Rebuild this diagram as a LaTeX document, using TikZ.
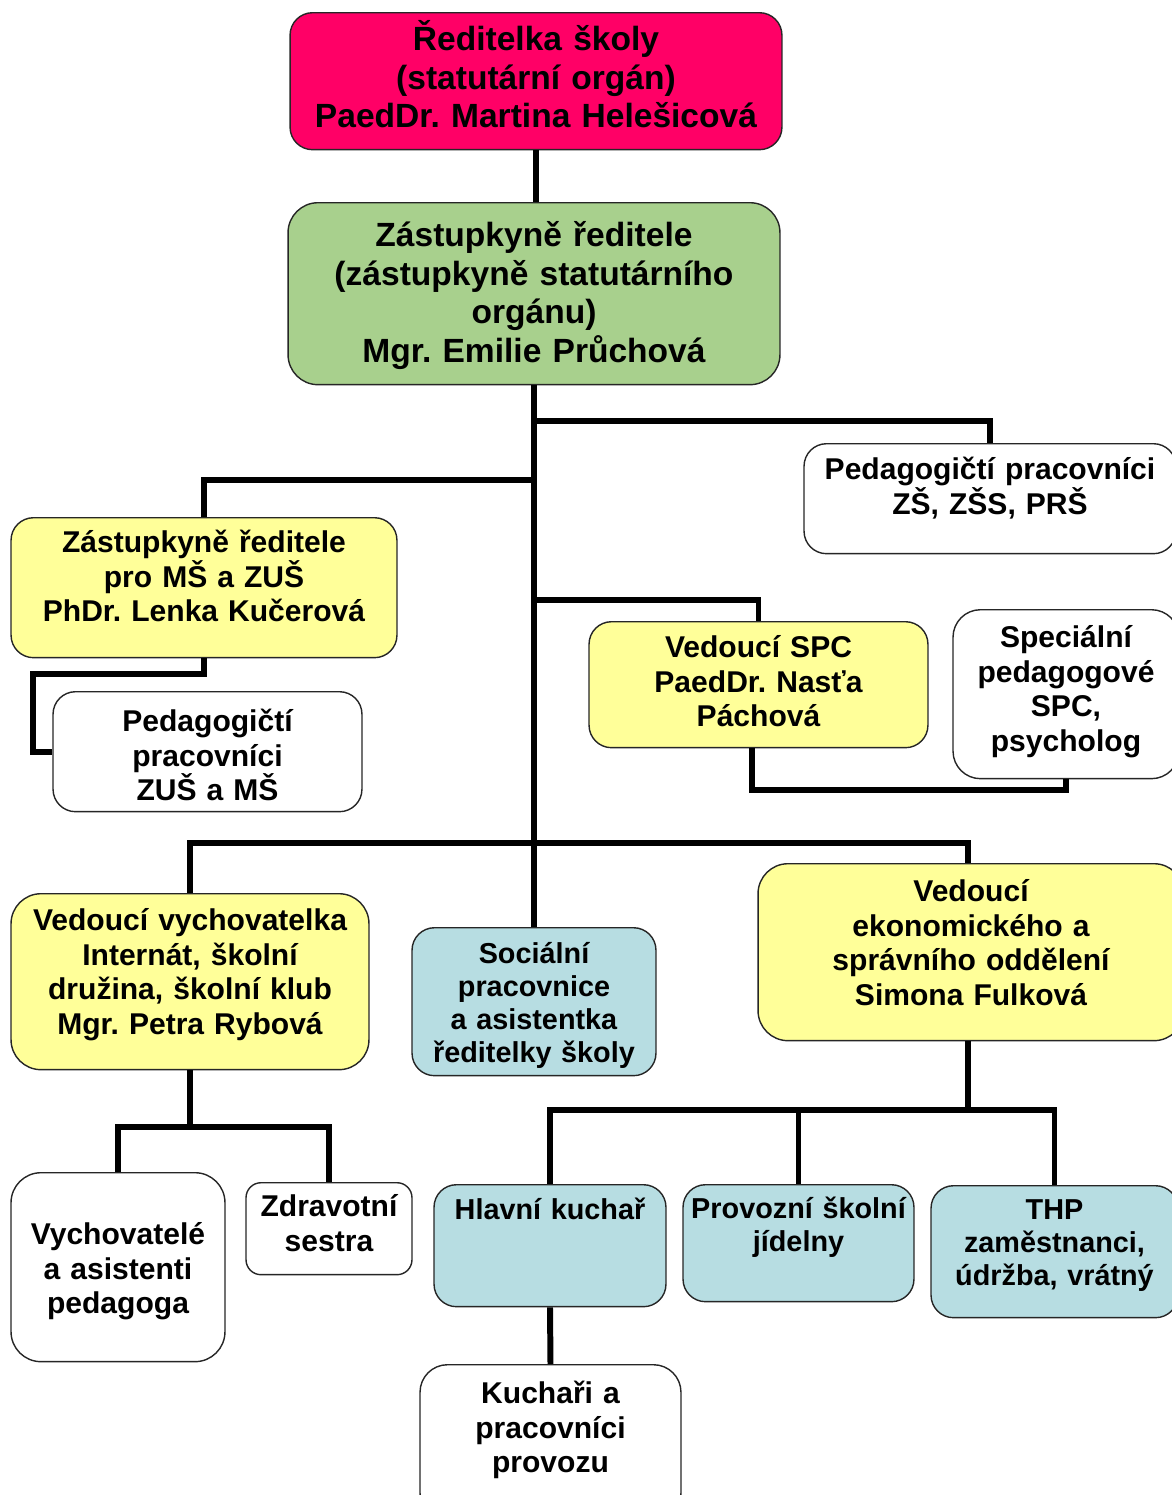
\documentclass[tikz,border=0pt]{standalone}
\usepackage{fontspec}
\setmainfont{Liberation Sans}
\frenchspacing

\definecolor{redbox}{RGB}{255,0,102}
\definecolor{greenbox}{RGB}{168,208,141}
\definecolor{yellowbox}{RGB}{255,255,153}
\definecolor{bluebox}{RGB}{183,221,226}

\tikzset{
	box/.style={draw=black!85, line width=0.8pt, rounded corners=0.45cm, inner sep=0pt, align=center, anchor=north},
	txtbig/.style={font=\fontsize{19.1}{21.9}\selectfont\bfseries},
	txtmid/.style={font=\fontsize{17.1}{19.6}\selectfont\bfseries},
	txtsml/.style={font=\fontsize{16.4}{18.8}\selectfont\bfseries},
	conn/.style={line width=3.4pt},
}

\begin{document}
\begin{tikzpicture}[x=0.02cm, y=-0.02cm]
	
	\useasboundingbox (0,0) rectangle (1171,1495);
	
	% vedeni
	\node[box, txtbig, fill=redbox, text width=9.84cm, text height=0.76cm, text depth=1.98cm] (reditelka) at (536,12) {Ředitelka školy\\(statutární orgán)\\PaedDr. Martina Helešicová};
	\node[box, txtbig, fill=greenbox, rounded corners=0.6cm, text width=9.84cm, text height=0.88cm, text depth=2.76cm] (zastupce) at (534,202) {Zástupkyně ředitele\\(zástupkyně statutárního\\orgánu)\\Mgr. Emilie Průchová};
	
	% stredni uroven
	\node[box, txtmid, fill=white, text width=7.44cm, text height=0.72cm, text depth=1.48cm] (pedzs) at (990,443) {Pedagogičtí pracovníci\\ZŠ, ZŠS, PRŠ};
	\node[box, txtmid, fill=yellowbox, text width=7.72cm, text height=0.70cm, text depth=2.10cm] (zastms) at (204,517) {Zástupkyně ředitele\\pro MŠ a ZUŠ\\PhDr. Lenka Kučerová};
	\node[box, txtmid, fill=white, text width=6.18cm, text height=0.80cm, text depth=1.60cm] (pedzus) at (207.5,691) {Pedagogičtí\\pracovníci\\ZUŠ a MŠ};
	\node[box, txtmid, fill=yellowbox, text width=6.78cm, text height=0.72cm, text depth=1.80cm] (spc) at (758.5,621) {Vedoucí SPC\\PaedDr. Nasťa\\Páchová};
	\node[box, txtmid, fill=white, rounded corners=0.55cm, text width=4.52cm, text height=0.76cm, text depth=2.62cm] (psych) at (1066,609) {Speciální\\pedagogové\\SPC,\\psycholog};
	
	% spodni uroven
	\node[box, txtmid, fill=yellowbox, rounded corners=0.6cm, text width=7.16cm, text height=0.74cm, text depth=2.78cm] (vych) at (190,893) {Vedoucí vychovatelka\\Internát, školní\\družina, školní klub\\Mgr. Petra Rybová};
	\node[box, txtsml, fill=bluebox, text width=4.88cm, text height=0.72cm, text depth=2.24cm] (socialni) at (534,927) {Sociální\\pracovnice\\a asistentka\\ředitelky školy};
	\node[box, txtmid, fill=yellowbox, rounded corners=0.6cm, text width=8.52cm, text height=0.76cm, text depth=2.78cm] (eko) at (971,863) {Vedoucí\\ekonomického a\\správního oddělení\\Simona Fulková};
	
	\node[box, txtmid, fill=white, rounded corners=0.6cm, text width=4.28cm, text height=1.44cm, text depth=2.34cm] (vychas) at (118,1172) {Vychovatelé\\a asistenti\\pedagoga};
	\node[box, txtmid, fill=white, rounded corners=0.3cm, text width=3.32cm, text height=0.68cm, text depth=1.16cm] (zdrav) at (329,1182) {Zdravotní\\sestra};
	\node[box, txtsml, fill=bluebox, text width=4.64cm, text height=0.70cm, text depth=1.74cm] (kuchar) at (550,1184) {Hlavní kuchař};
	\node[box, txtsml, fill=bluebox, text width=4.62cm, text height=0.68cm, text depth=1.66cm] (jidelna) at (798.5,1184) {Provozní školní\\jídelny};
	\node[box, txtsml, fill=bluebox, text width=4.94cm, text height=0.68cm, text depth=1.96cm] (thp) at (1054.5,1185) {THP\\zaměstnanci,\\údržba, vrátný};
	\node[box, txtmid, fill=white, rounded corners=0.55cm, text width=5.22cm, text height=0.78cm, text depth=2.34cm] (kuchari) at (550.5,1364) {Kuchaři a\\pracovníci\\provozu};
	
	% spojnice
	\coordinate (j1) at (534,421);
	\coordinate (j2) at (534,480);
	\coordinate (j3) at (534,600);
	\coordinate (k1) at (33,674);
	\coordinate (k2) at (752,790);
	\coordinate (k3) at (968,843);
	\coordinate (k4) at (190,1127);
	\coordinate (k5) at (968,1110);
	
	\draw[conn] (reditelka.south) -- (reditelka.south |- zastupce.north);
	\draw[conn] (zastupce.south) -- (socialni.north);
	\draw[conn] (j1) -| (pedzs.north);
	\draw[conn] (j2) -| (zastms.north);
	\draw[conn] (j3) -| (spc.north);
	\draw[conn] (zastms.south) |- (k1) |- (pedzus.west);
	\draw[conn] (spc.south -| k2) -- (k2) -| (psych.south);
	\draw[conn] (vych.north) |- (k3) -- (k3 |- eko.north);
	\draw[conn] (vych.south) -- (k4);
	\draw[conn] (vychas.north) -- (vychas.north |- k4) -| (zdrav.north);
	\draw[conn] (eko.south -| k5) -- (k5);
	\draw[conn] (kuchar.north) -- (kuchar.north |- k5) -| (thp.north);
	\draw[conn] (jidelna.north |- k5) -- (jidelna.north);
	\draw[conn] (kuchar.south) -- (kuchari.north);
	
\end{tikzpicture}
\end{document}
